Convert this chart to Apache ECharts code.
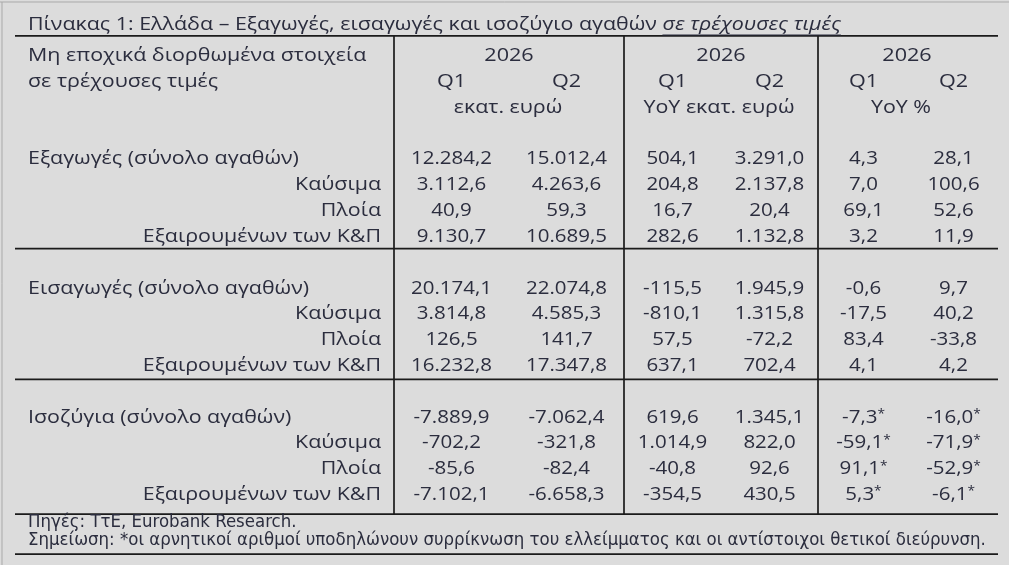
<!DOCTYPE html>
<html><head><meta charset="utf-8">
<script src="https://cdn.jsdelivr.net/npm/echarts@6/dist/echarts.min.js"></script>
<style>html,body{margin:0;padding:0;background:#dcdcdc;}#c{width:1009px;height:565px;}</style>
</head><body><div id="c"></div>
<script>
// ---------- data ----------
const titleMain = 'Πίνακας 1: Ελλάδα – Εξαγωγές, εισαγωγές και ισοζύγιο αγαθών ';
const titleEmph = 'σε τρέχουσες τιμές';
const headerLeft = ['Μη εποχικά διορθωμένα στοιχεία', 'σε τρέχουσες τιμές'];
const yearLabels = ['2026', '2026', '2026'];
const quarterLabels = ['Q1', 'Q2', 'Q1', 'Q2', 'Q1', 'Q2'];
const unitLabels = ['εκατ. ευρώ', 'YoY εκατ. ευρώ', 'YoY %'];
const categories = [
  'Εξαγωγές (σύνολο αγαθών)', 'Καύσιμα', 'Πλοία', 'Εξαιρουμένων των Κ&Π',
  'Εισαγωγές (σύνολο αγαθών)', 'Καύσιμα', 'Πλοία', 'Εξαιρουμένων των Κ&Π',
  'Ισοζύγια (σύνολο αγαθών)', 'Καύσιμα', 'Πλοία', 'Εξαιρουμένων των Κ&Π'
];
const levelQ1 = [12284.2, 3112.6, 40.9, 9130.7, 20174.1, 3814.8, 126.5, 16232.8, -7889.9, -702.2, -85.6, -7102.1];
const levelQ2 = [15012.4, 4263.6, 59.3, 10689.5, 22074.8, 4585.3, 141.7, 17347.8, -7062.4, -321.8, -82.4, -6658.3];
const yoyQ1 = [504.1, 204.8, 16.7, 282.6, -115.5, -810.1, 57.5, 637.1, 619.6, 1014.9, -40.8, -354.5];
const yoyQ2 = [3291.0, 2137.8, 20.4, 1132.8, 1945.9, 1315.8, -72.2, 702.4, 1345.1, 822.0, 92.6, 430.5];
const pctQ1 = [4.3, 7.0, 69.1, 3.2, -0.6, -17.5, 83.4, 4.1, -7.3, -59.1, 91.1, 5.3];
const pctQ2 = [28.1, 100.6, 52.6, 11.9, 9.7, 40.2, -33.8, 4.2, -16.0, -71.9, -52.9, -6.1];
const pctStarred = [false, false, false, false, false, false, false, false, true, true, true, true];
const footnotes = [
  'Πηγές: ΤτΕ, Eurobank Research.',
  'Σημείωση: *οι αρνητικοί αριθμοί υποδηλώνουν συρρίκνωση του ελλείμματος και οι αντίστοιχοι θετικοί διεύρυνση.'
];

// ---------- layout / style ----------
const FONT = "'Open Sans', 'Noto Sans', sans-serif";
const NARROW = "'Liberation Sans Narrow', 'DejaVu Sans Condensed', sans-serif";
const INK = '#2b2d3e';
const RULE = '#1b1b1b';
const ROWH = 25.82, ROW0 = 53;
const TEXT_DY = 3;
const colX = [451.5, 566.5, 672.5, 769.5, 863.5, 953.5];
const groupX = [509, 721, 907];
const unitX = [508, 719, 901];
const LABEL_LEFT = 28, LABEL_RIGHT = 381;
const RULE_LEFT = 15, RULE_RIGHT = 998;
const vSep = [394, 624, 818];
const yTop = -0.66, ySep1 = 7.58, ySep2 = 12.64, yFoot = 17.86, yBottom = 19.41;
const FS = 18, FS_FOOT = 17;
const SX_TEXT = 1.19, SX_HEAD = 1.2, SX_NUM = 1.14, SX_FOOT = 1.085;

const columns = [levelQ1, levelQ2, yoyQ1, yoyQ2, pctQ1, pctQ2];
const rowOf = i => 4 + Math.floor(i / 4) * 5 + (i % 4);

function fmt(v) {
  const neg = v < 0;
  const parts = Math.abs(v).toFixed(1).split('.');
  const ip = parts[0].replace(/\B(?=(\d{3})+(?!\d))/g, '.');
  return (neg ? '-' : '') + ip + ',' + parts[1];
}

const mctx = document.createElement('canvas').getContext('2d');
function measure(text, font) { mctx.font = font; return mctx.measureText(text).width; }

// text items
const texts = [];
function addText(x, y, text, opt) { texts.push(Object.assign({ x: x, y: y, text: text, align: 'center', sx: SX_TEXT }, opt || {})); }

const titleY = (22 - ROW0) / ROWH;
addText(LABEL_LEFT, titleY, titleMain, { align: 'left' });
const w1 = measure(titleMain, FS + 'px ' + FONT) * SX_TEXT;
addText(LABEL_LEFT + w1, titleY, titleEmph, { align: 'left', italic: true, underline: true });

addText(LABEL_LEFT, 0, headerLeft[0], { align: 'left' });
addText(LABEL_LEFT, 1, headerLeft[1], { align: 'left' });
yearLabels.forEach((t, g) => addText(groupX[g], 0, t, { sx: SX_HEAD }));
quarterLabels.forEach((t, c) => addText(colX[c], 1, t, { sx: SX_HEAD }));
unitLabels.forEach((t, g) => addText(unitX[g], 2, t));

categories.forEach((name, i) => {
  const main = i % 4 === 0;
  addText(main ? LABEL_LEFT : LABEL_RIGHT, rowOf(i), name, { align: main ? 'left' : 'right' });
});
columns.forEach((arr, c) => {
  arr.forEach((v, i) => {
    const star = c >= 4 && pctStarred[i];
    addText(colX[c], rowOf(i), fmt(v), { star: star, sx: SX_NUM });
  });
});
addText(LABEL_LEFT, (520 - ROW0) / ROWH, footnotes[0], { align: 'left', narrow: true, sx: SX_FOOT });
addText(LABEL_LEFT, (538 - ROW0) / ROWH, footnotes[1], { align: 'left', narrow: true, sx: SX_FOOT });

// rules
const rules = [
  [RULE_LEFT, yTop, RULE_RIGHT, yTop],
  [RULE_LEFT, ySep1, RULE_RIGHT, ySep1],
  [RULE_LEFT, ySep2, RULE_RIGHT, ySep2],
  [RULE_LEFT, yFoot, RULE_RIGHT, yFoot],
  [RULE_LEFT, yBottom, RULE_RIGHT, yBottom]
];
vSep.forEach(x => rules.push([x, yTop, x, yFoot]));

const chart = echarts.init(document.getElementById('c'), null, { renderer: 'canvas' });
chart.setOption({
  animation: false,
  backgroundColor: '#dcdcdc',
  grid: { left: 0, right: 0, top: 0, bottom: 0, containLabel: false },
  xAxis: { type: 'value', min: 0, max: 1009, show: false },
  yAxis: { type: 'value', inverse: true, min: -ROW0 / ROWH, max: (565 - ROW0) / ROWH, show: false },
  graphic: [
    { type: 'line', shape: { x1: 0, y1: 2, x2: 1009, y2: 2 }, style: { stroke: '#a9a9a9', lineWidth: 1 } },
    { type: 'line', shape: { x1: 2, y1: 2, x2: 2, y2: 565 }, style: { stroke: '#a9a9a9', lineWidth: 1 } }
  ],
  series: [
    {
      type: 'custom', silent: true,
      data: rules,
      renderItem: function (params, api) {
        const a = api.coord([api.value(0), api.value(1)]);
        const b = api.coord([api.value(2), api.value(3)]);
        return { type: 'line', shape: { x1: a[0], y1: a[1], x2: b[0], y2: b[1] }, style: { stroke: RULE, lineWidth: 1.7 } };
      }
    },
    {
      type: 'custom', silent: true,
      data: texts.map(t => [t.x, t.y]),
      renderItem: function (params, api) {
        const t = texts[params.dataIndex];
        const p = api.coord([api.value(0), api.value(1)]);
        const y = p[1] + TEXT_DY;
        const font = t.narrow ? (FS_FOOT + 'px ' + NARROW) : ((t.italic ? 'italic ' : '') + FS + 'px ' + FONT);
        const style = { text: t.text, fill: INK, font: font, align: t.align, verticalAlign: 'middle' };
        if (t.star) {
          style.text = '{n|' + t.text + '}{s|*}';
          style.rich = { n: { font: FS + 'px ' + FONT, fill: INK }, s: { font: '12px ' + FONT, fill: INK, padding: [0, 0, 6, 0] } };
        }
        const children = [{ type: 'text', x: p[0], y: y, scaleX: t.sx, style: style }];
        if (t.underline) {
          const w = measure(t.text, font) * t.sx;
          children.push({ type: 'line', shape: { x1: p[0], y1: y + 10, x2: p[0] + w, y2: y + 10 }, style: { stroke: INK, lineWidth: 1.2 } });
        }
        return { type: 'group', children: children };
      }
    }
  ]
});
</script></body></html>
